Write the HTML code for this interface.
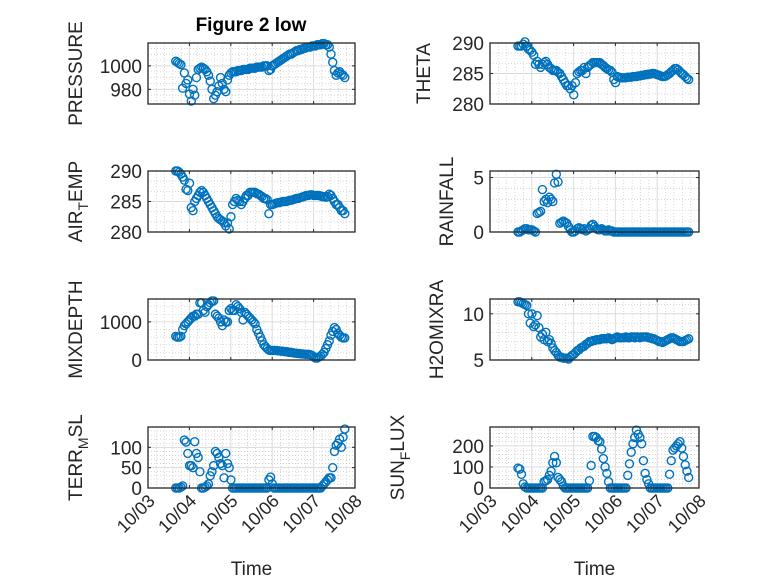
<!DOCTYPE html>
<html><head><meta charset="utf-8"><style>
body{margin:0;background:#fff}
svg{display:block;font-family:"Liberation Sans",sans-serif}
</style></head><body>
<svg id="fig" width="778" height="583" viewBox="0 0 778 583">
<rect width="778" height="583" fill="#fff"/>
<text x="251" y="31" font-size="19" font-weight="bold" text-anchor="middle" fill="#000">Figure 2 low</text>
</svg>
<script>
// time axis: days since 10/03 00:00, hourly samples starting at day 0.67
const startDay = 0.67;
const xTickLabels = ["10/03","10/04","10/05","10/06","10/07","10/08"];
const pressure = [1004,1003,1002,1001,981,994,985,988, 976,970,980,975,990,997,998,999, 998,997,995,992,987,980,972,975, 978,983,990,985,980,978,988,992, 994,995,995,995,996,996,996,997, 997,997,997,998,998,998,998,999, 999,999,999,1000,1000,1000,996,997, 1000,1001,1002,1003,1004,1005,1006,1007, 1008,1009,1010,1010,1011,1012,1013,1013, 1014,1014,1015,1015,1016,1016,1016,1017, 1017,1017,1018,1018,1018,1019,1019,1018, 1018,1016,1010,1003,996,992,994,995, 993,992,990];
const theta = [289.5,289.5,289.5,289.8,290.2,289.5,289,288.8, 288.5,288,286.5,287,286.5,286,286.5,286.8, 287,286.5,286,285.8,285.5,285.5,285.5,285.2, 285,284.5,284,283.5,283,283,282.5,283, 281.5,283.5,285,285.3,285.5,285.5,286,285, 286,286.3,286.5,286.8,286.8,286.8,286.8,286.8, 286.5,286.3,286,285.8,285.6,285.5,285.2,284, 283.5,284.5,284.4,284.3,284.3,284.3,284.3,284.4, 284.4,284.4,284.5,284.5,284.5,284.6,284.6,284.7, 284.7,284.8,284.8,284.9,284.9,285,285,284.9, 284.8,284.7,284.6,284.5,284.5,284.6,284.8,285, 285.3,285.5,285.8,285.8,285.6,285.3,285,284.8, 284.5,284.2,284];
const airTemp = [290,290,289.8,289.5,289,288.5,287,286.8, 288,284,283.5,285,285.5,286,286.5,286.8, 286.5,286,285.5,285,284.5,284,283.5,283, 282.5,282.2,282,281.8,281.5,281,281.5,280.5, 282.5,284.5,285,285.5,285.2,285,284.5,285, 285.5,286,286,286.5,286.5,286.5,286.5,286.3, 286.2,286,285.8,285.5,285.5,285.3,283,284.5, 284.5,284.6,284.7,284.8,284.8,284.9,285,285, 285,285.1,285.2,285.2,285.3,285.4,285.5,285.5, 285.6,285.7,285.8,285.9,286,286,286.1,286.1, 286,286,286,286,285.9,285.8,285.8,285.7, 285.8,286.2,286,285.5,285,284.5,284.5,284, 283.5,283.5,283];
const rainfall = [0,0,0.1,0.2,0.3,0.3,0.2,0.2, 0.2,0.1,0,1.7,1.8,1.9,3.9,2.8, 3.0,2.7,3.2,3.0,2.8,4.5,5.3,4.6, 0.8,0.9,1.0,0.9,0.8,0.5,0.2,0, 0,0.1,0.3,0.4,0.3,0.2,0.3,0.1, 0.2,0.3,0.6,0.7,0.5,0.3,0.2,0.2, 0.3,0.2,0.1,0.1,0.2,0.1,0.1,0, 0,0,0,0,0,0,0,0, 0,0,0,0,0,0,0,0, 0,0,0,0,0,0,0,0, 0,0,0,0,0,0,0,0, 0,0,0,0,0,0,0,0, 0,0,0];
const mixDepth = [620,600,600,620,800,900,950,1000, 1050,1100,1150,1150,1200,1200,1500,1500, 1300,1250,1400,1450,1500,1550,1550,1200, 1150,1100,1000,900,1050,1000,1000,1300, 1350,1300,1300,1450,1400,1350,1250,1050, 1250,1200,1150,1100,1050,1000,950,800, 700,600,500,400,350,300,260,250, 250,250,250,240,240,230,230,220, 220,210,200,200,190,180,180,170, 170,160,160,150,150,150,140,120, 80,50,50,80,100,150,200,300, 400,500,650,750,850,800,700,650, 600,580,580];
const h2oMix = [11.3,11.3,11.2,11.1,11,10.9,10,9.0, 10,8.6,8.8,9.8,8.5,7.5,7.8,7.2, 8,7,7.2,6.8,6.3,6.0,5.8,5.5, 5.3,5.3,5.2,5.2,5.2,5.1,5.3,5.5, 5.6,5.8,6.0,6.1,6.3,6.4,6.5,6.7, 6.8,7.0,7.0,7.1,7.1,7.2,7.2,7.2, 7.3,7.3,7.3,7.3,7.4,7.3,7.2,7.3, 7.4,7.5,7.4,7.4,7.4,7.4,7.5,7.4, 7.4,7.5,7.5,7.4,7.5,7.5,7.4,7.5, 7.5,7.5,7.5,7.4,7.4,7.3,7.3,7.2, 7.1,7.0,7.0,6.9,7.0,7.1,7.2,7.3, 7.4,7.4,7.3,7.2,7.1,7.0,7.0,7.0, 7.1,7.2,7.3];
const terrMsl = [0,0,0,2,5,118,113,85, 55,55,50,114,85,75,40,0, 0,2,5,10,30,40,55,90, 85,75,60,55,25,85,60,50, 20,0,0,0,0,0,0,0, 0,0,0,0,0,0,0,0, 0,0,0,0,0,0,20,27, 10,0,0,0,0,0,0,0, 0,0,0,0,0,0,0,0, 0,0,0,0,0,0,0,0, 0,0,0,0,0,5,10,15, 20,25,25,50,90,105,110,120, 100,125,145];
const sunFlux = [95,90,65,20,5,0,0,0, 0,0,0,0,0,0,0,30, 35,40,60,80,120,150,120,50, 40,30,10,0,0,0,0,0, 0,0,0,0,0,0,0,0, 0,35,107,245,245,240,225,220, 185,140,100,70,30,0,0,0, 0,0,0,0,0,0,0,60, 115,170,210,240,275,255,240,210, 130,70,40,20,0,0,0,0, 0,0,0,0,0,0,0,65, 130,180,190,200,210,220,190,150, 110,80,50];
const pressureTicks = [980,1000];
const tempTicks = [280,285,290];
const rainTicks = [0,5];
const mixTicks = [0,1000];
const h2oTicks = [5,10];
const terrTicks = [0,50,100];
const sunTicks = [0,100,200];

const NS = "http://www.w3.org/2000/svg";
const svg = document.getElementById("fig");
function mk(tag, attrs, parent){const e=document.createElementNS(NS,tag);for(const k in attrs)e.setAttribute(k,attrs[k]);(parent||svg).appendChild(e);return e;}

const panels = [
 {key:"pressure",vals:pressure,ticks:pressureTicks,ymin:967.5,ymax:1019.5,minor:5,x:148,y:43,lab:["PRESSURE"],lx:82},
 {key:"theta",vals:theta,ticks:tempTicks,ymin:280,ymax:290,minor:5/3,x:490,y:43,lab:["THETA"],lx:430},
 {key:"air-temp",vals:airTemp,ticks:tempTicks,ymin:280,ymax:290,minor:5/3,x:148,y:171,lab:["AIR","T","EMP"],lx:82},
 {key:"rainfall",vals:rainfall,ticks:rainTicks,ymin:0,ymax:5.6,minor:1,x:490,y:171,lab:["RAINFALL"],lx:453},
 {key:"mixdepth",vals:mixDepth,ticks:mixTicks,ymin:0,ymax:1600,minor:200,x:148,y:299,lab:["MIXDEPTH"],lx:82},
 {key:"h2omixra",vals:h2oMix,ticks:h2oTicks,ymin:5,ymax:11.6,minor:1,x:490,y:299,lab:["H2OMIXRA"],lx:443},
 {key:"terr-msl",vals:terrMsl,ticks:terrTicks,ymin:0,ymax:150,minor:10,x:148,y:427,lab:["TERR","M","SL"],lx:82,bottom:true},
 {key:"sun-flux",vals:sunFlux,ticks:sunTicks,ymin:0,ymax:290,minor:20,x:490,y:427,lab:["SUN","F","LUX"],lx:404,bottom:true}
];
const W=[207,209], H=61, xmin=0, xmax=5;

panels.forEach(p=>{
 const w = p.x<300?W[0]:W[1];
 const g = mk("g",{});
 
 
 const sx = d => p.x + (d-xmin)/(xmax-xmin)*w;
 const sy = v => p.y + H - (v-p.ymin)/(p.ymax-p.ymin)*H;
 for(let d=xmin; d<=xmax+1e-9; d+=0.2){ if(Math.abs(d-Math.round(d))<1e-6) continue;
   mk("line",{x1:sx(d),x2:sx(d),y1:p.y,y2:p.y+H,stroke:"#c0c0c0","stroke-width":0.6,"stroke-dasharray":"1,2"},g);}
 const m0=Math.ceil(p.ymin/p.minor)*p.minor;
 for(let v=m0; v<=p.ymax+1e-9; v+=p.minor){ if(p.ticks.some(t=>Math.abs(t-v)<1e-6)) continue;
   mk("line",{x1:p.x,x2:p.x+w,y1:sy(v),y2:sy(v),stroke:"#c0c0c0","stroke-width":0.6,"stroke-dasharray":"1,2"},g);}
 for(let d=xmin; d<=xmax; d++){
   mk("line",{x1:sx(d),x2:sx(d),y1:p.y,y2:p.y+H,stroke:"#dcdcdc","stroke-width":1},g);
   mk("line",{x1:sx(d),x2:sx(d),y1:p.y+H,y2:p.y+H-3,stroke:"#262626","stroke-width":1},g);
   mk("line",{x1:sx(d),x2:sx(d),y1:p.y,y2:p.y+3,stroke:"#262626","stroke-width":1},g);
   if(p.bottom){
     const t=mk("text",{transform:`translate(${sx(d)+8},${p.y+H+14}) rotate(-45)`,"text-anchor":"end","font-size":18,fill:"#262626"},g);
     t.textContent=xTickLabels[d];
     
     
   }
 }
 p.ticks.forEach(v=>{
   mk("line",{x1:p.x,x2:p.x+w,y1:sy(v),y2:sy(v),stroke:"#dcdcdc","stroke-width":1},g);
   mk("line",{x1:p.x,x2:p.x+3,y1:sy(v),y2:sy(v),stroke:"#262626","stroke-width":1},g);
   mk("line",{x1:p.x+w,x2:p.x+w-3,y1:sy(v),y2:sy(v),stroke:"#262626","stroke-width":1},g);
   const t=mk("text",{x:p.x-6,y:sy(v)+7,"text-anchor":"end","font-size":19,fill:"#262626"},g);
   t.textContent=v;
   
   
 });
 p.vals.forEach((v,i)=>{
   const c=mk("circle",{cx:sx(startDay+i/24),cy:sy(v),r:4,fill:"none",stroke:"#0072BD","stroke-width":1.4},g);
   
   
 });
 mk("rect",{x:p.x,y:p.y,width:w,height:H,fill:"none",stroke:"#262626","stroke-width":1.3},g);
 const cy=p.y+H/2;
 const yl=mk("text",{transform:`translate(${p.lx},${cy}) rotate(-90)`,"text-anchor":"middle","font-size":19,fill:"#262626"},g);
 
 
 if(p.lab.length===1){yl.textContent=p.lab[0];}
 else{
   const a=mk("tspan",{},yl);a.textContent=p.lab[0];
   const b=mk("tspan",{dy:6,"font-size":14},yl);b.textContent=p.lab[1];
   const c=mk("tspan",{dy:-6},yl);c.textContent=p.lab[2];
 }
 if(p.bottom){
   const t=mk("text",{x:p.x+w/2,y:575,"text-anchor":"middle","font-size":19,fill:"#262626"},g);
   t.textContent="Time";
   
   
 }
});
</script>
</body></html>
